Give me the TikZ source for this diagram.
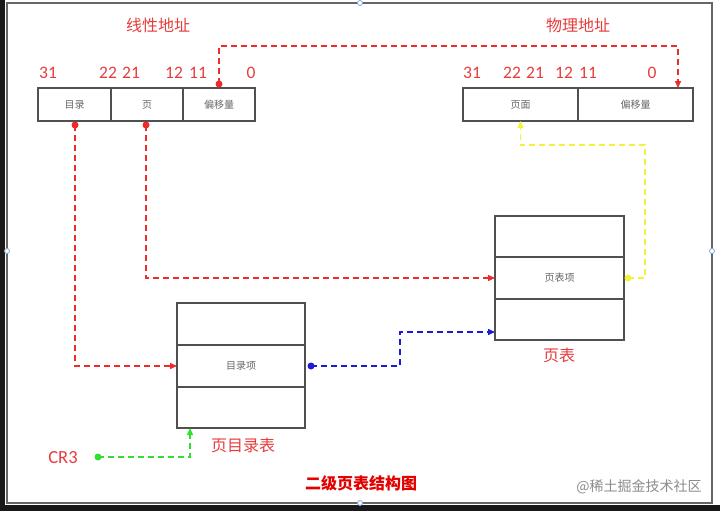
\documentclass[tikz,border=0pt]{standalone}
\usepackage{fontspec}
\setmainfont{Carlito}
\newfontfamily\cjk{Noto Sans CJK SC}
\usetikzlibrary{arrows.meta}
\definecolor{lred}{HTML}{EE2A2A}
\definecolor{tred}{HTML}{E83C3C}
\definecolor{lblue}{HTML}{1A1ADD}
\definecolor{lgreen}{HTML}{2FE02F}
\definecolor{lyellow}{HTML}{F2F23A}
\definecolor{boxgray}{HTML}{505050}
\definecolor{handle}{HTML}{7FA8D8}
\tikzset{
  cell/.style={draw=boxgray, line width=1.2pt, rectangle, inner sep=0pt, outer sep=0pt,
    font=\cjk\fontsize{10}{11}\selectfont, text=black!60},
  bitlbl/.style={text=tred, font=\fontsize{17.5}{18}\selectfont, inner sep=0pt},
  ttl/.style={text=tred, font=\cjk\fontsize{16}{18}\selectfont, inner sep=0pt},
  conn/.style={line width=1.4pt, dash pattern=on 6pt off 4pt, -{Triangle[length=7pt,width=6pt]}},
  dotc/.style={circle, inner sep=0pt, minimum size=7pt},
  hnd/.style={circle, draw=handle, fill=white, line width=0.8pt, inner sep=0pt, minimum size=5pt}
}
\begin{document}
\begin{tikzpicture}[x=1pt,y=-1pt]
\useasboundingbox (0,0) rectangle (720,511);
\fill[white] (0,0) rectangle (720,511);
\fill[black!90] (0,505) rectangle (720,511);
\fill[black!90] (0,0) rectangle (5,505);
\draw[black!60, line width=1.5pt] (7,3) rectangle (712,503);

% linear address
\node[ttl] (tla) at (158,25) {线性地址};
\node[cell, minimum width=73pt, minimum height=33pt] (la1) at (74.5,104.5) {目录};
\node[cell, minimum width=72pt, minimum height=33pt] (la2) at (147,104.5) {页};
\node[cell, minimum width=72pt, minimum height=33pt] (la3) at (219,104.5) {偏移量};
\node[bitlbl] (b31) at (48,73) {31};
\node[bitlbl] (b22) at (108,73) {22};
\node[bitlbl] (b21) at (131,73) {21};
\node[bitlbl] (b12) at (174,73) {12};
\node[bitlbl] (b11) at (198,73) {11};
\node[bitlbl] (b0) at (251,73) {0};

% physical address
\node[ttl] (tpa) at (578,25) {物理地址};
\node[cell, minimum width=115pt, minimum height=33pt] (pa1) at (520.5,104.5) {页面};
\node[cell, minimum width=115pt, minimum height=33pt] (pa2) at (635.5,104.5) {偏移量};
\node[bitlbl] (p31) at (472,73) {31};
\node[bitlbl] (p22) at (512,73) {22};
\node[bitlbl] (p21) at (535,73) {21};
\node[bitlbl] (p12) at (564,73) {12};
\node[bitlbl] (p11) at (588,73) {11};
\node[bitlbl] (p0) at (652,73) {0};

% page directory
\node[cell, minimum width=128pt, minimum height=42pt] (pd1) at (241,324) {};
\node[cell, minimum width=128pt, minimum height=42pt] (pd2) at (241,366) {目录项};
\node[cell, minimum width=128pt, minimum height=41pt] (pd3) at (241,407.5) {};
\node[ttl] (tpd) at (243,445) {页目录表};

% page table
\node[cell, minimum width=129pt, minimum height=41pt] (pt1) at (559.5,236.5) {};
\node[cell, minimum width=129pt, minimum height=42pt] (pt2) at (559.5,278) {页表项};
\node[cell, minimum width=129pt, minimum height=41pt] (pt3) at (559.5,319.5) {};
\node[ttl] (tpt) at (559,355) {页表};

% CR3
\node[text=tred, font=\fontsize{18.5}{20}\selectfont, inner sep=0pt] (cr3) at (63,458) {CR3};

% connectors
\node[dotc, fill=lred] (d3) at (219,84) {};
\draw[conn, lred] (d3.center) -- (219,46) -| ([xshift=42.5pt]pa2.north);
\node[dotc, fill=lred] (d1) at (75,125) {};
\draw[conn, lred] (d1.center) |- (pd2.west);
\node[dotc, fill=lred] (d2) at (146,125) {};
\draw[conn, lred] (d2.center) |- (pt2.west);
\node[dotc, fill=lblue] (db) at (311,366) {};
\draw[conn, lblue] (db.center) -- (400,366) -- (400,332) -- ([yshift=-12.5pt]pt3.west);
\node[dotc, fill=lyellow] (dy) at (628,278) {};
\draw[conn, lyellow] (dy.center) -- (645,278) -- (645,145) -| (pa1.south);
\node[dotc, fill=lgreen] (dg) at (98,457) {};
\draw[conn, lgreen] (dg.center) -| ([xshift=-51pt]pd3.south);

% title
\node[text=red!90!black, font=\cjk\bfseries\fontsize{16}{18}\selectfont, inner sep=0pt] (title) at (361,483) {二级页表结构图};
\node[text=black!45, font=\cjk\fontsize{14}{16}\selectfont, inner sep=0pt] (wm) at (639,487) {@稀土掘金技术社区};

% selection handles
\node[hnd] (h1) at (360,3) {};
\node[hnd] (h2) at (7,251) {};
\node[hnd] (h3) at (712,251) {};
\node[hnd] (h4) at (360,503) {};
\end{tikzpicture}
\end{document}
